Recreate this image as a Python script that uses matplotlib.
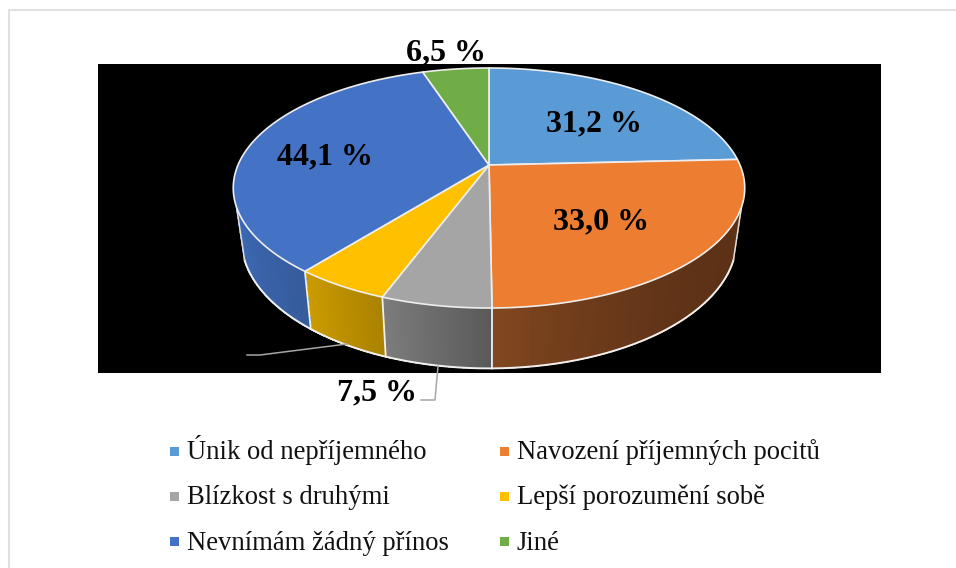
import numpy as np
import matplotlib
matplotlib.use("Agg")
import matplotlib.pyplot as plt
from matplotlib.collections import PolyCollection
from matplotlib.patches import Polygon, Rectangle

plt.rcParams['font.family'] = ['Liberation Serif', 'DejaVu Serif']

categories = ["Únik od nepříjemného", "Navození příjemných pocitů", "Blízkost s druhými",
              "Lepší porozumění sobě", "Nevnímám žádný přínos", "Jiné"]
values = [31.2, 33.0, 7.5, 6.5, 44.1, 6.5]
labels = ["31,2 %", "33,0 %", "7,5 %", "6,5 %", "44,1 %", "6,5 %"]
colors = ["#5b9bd5", "#ed7d31", "#a5a5a5", "#ffc000", "#4472c4", "#70ad47"]
# wall shade at the left and right end of each slice
wall_left = ["#5c3116", "#824720", "#7c7c7c", "#cb9b00", "#3c69b4", "#436a2a"]
wall_right = ["#5c3116", "#5c3116", "#595959", "#aa8200", "#365b9b", "#436a2a"]
wall_curve = [1, 2.5, 1, 1, 1, 1]

# perspective of the disc (pixels)
cx, cy = 489.0, 165.0
k = 0.1917
top_a, top_b = 251.0, 115.6
low_a, low_b, low_c = 243.0, 124.0, 215.0
wall_from, wall_to = 110.0, 250.0

def top_rim(theta):
    t = np.radians(theta)
    w = 1 + k * np.cos(t)
    return cx + top_a * np.sin(t) / w, cy - top_b * np.cos(t) / w

def low_rim(theta):
    t = np.radians(theta)
    w = 1 + k * np.cos(t)
    return cx + low_a * np.sin(t) / w, low_c - low_b * np.cos(t) / w

def rgb(c):
    return np.array(matplotlib.colors.to_rgb(c))

edges = np.concatenate([[0], np.cumsum(values)]) / np.sum(values) * 360

fig = plt.figure(figsize=(9.56, 5.68), dpi=100)
ax = fig.add_axes([0, 0, 1, 1])
ax.set_xlim(0, 956)
ax.set_ylim(568, 0)
ax.axis("off")

# outer frame and black plot area
ax.add_patch(Rectangle((9.5, 9.5), 960, 600, fc="white", ec="#e0e0e0", lw=1.5))
ax.add_patch(Rectangle((98, 64), 783, 309, fc="black", ec="none"))

# walls
for i in range(len(values)):
    a0 = max(edges[i], wall_from)
    a1 = min(edges[i + 1], wall_to)
    if a1 <= a0:
        continue
    steps = np.linspace(a0, a1, 60)
    xu, yu = top_rim(steps)
    xl, yl = low_rim(steps)
    quads, shades = [], []
    for j in range(len(steps) - 1):
        quads.append([(xu[j], yu[j]), (xu[j + 1], yu[j + 1]), (xl[j + 1], yl[j + 1]), (xl[j], yl[j])])
        # theta runs right to left along the front
        f = ((j + 0.5) / (len(steps) - 1)) ** wall_curve[i]
        shades.append(rgb(wall_right[i]) * (1 - f) + rgb(wall_left[i]) * f)
    ax.add_collection(PolyCollection(quads, facecolors=shades, edgecolors=shades, linewidths=0.5,
                                     antialiaseds=False, zorder=2))

# lower rim and side edges
steps = np.linspace(wall_from, wall_to, 200)
ax.plot(*low_rim(steps), color="#f0f0f0", lw=1.4, zorder=3)
for a in [wall_from, wall_to]:
    xu, yu = top_rim(a)
    xl, yl = low_rim(a)
    ax.plot([xu, xl], [yu, yl], color="#dddddd", lw=1.1, zorder=3)
for a in edges[1:-1]:
    if wall_from < a < wall_to:
        xu, yu = top_rim(a)
        xl, yl = low_rim(a)
        ax.plot([xu, xl], [yu, yl], color="#f0f0f0", lw=1.3, zorder=3)

# top face
for i in range(len(values)):
    steps = np.linspace(edges[i], edges[i + 1], 120)
    x, y = top_rim(steps)
    pts = np.column_stack([np.r_[cx, x], np.r_[cy, y]])
    ax.add_patch(Polygon(pts, closed=True, fc=colors[i], ec="#eeeeee", lw=1.2, joinstyle="round", zorder=4))

# data labels
label_pos = [(594, 124), (601, 222), (377, 393), (205, 358), (325, 157), (446, 53)]
for txt, (x, y) in zip(labels, label_pos):
    ax.text(x, y, txt, fontsize=23, fontweight="bold", color="black", ha="center", va="center", zorder=6)

# leader lines
ax.plot([247, 260, 347], [355, 355, 344], color="#a6a6a6", lw=1.1, zorder=5)
ax.plot([438, 435, 421], [366, 400, 400], color="#a6a6a6", lw=1.1, zorder=5)

# legend
leg_x = [175, 505]
leg_y = [451, 496, 541.5]
for i, name in enumerate(categories):
    x = leg_x[i % 2]
    y = leg_y[i // 2]
    ax.add_patch(Rectangle((x - 4.5, y - 4.5), 9, 9, fc=colors[i], ec="none"))
    ax.text(x + 12, y + 8, name, fontsize=19.2, color="#111111", ha="left", va="baseline")

fig.savefig("out.png", dpi=100, facecolor="white")
